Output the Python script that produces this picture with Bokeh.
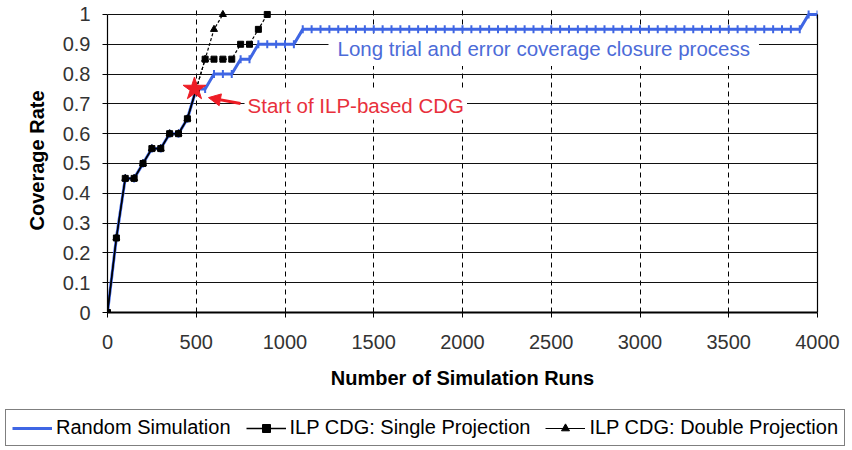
import math
from bokeh.plotting import figure
from bokeh.layouts import column
from bokeh.models import (Range1d, FixedTicker, LinearAxis, Legend, LegendItem,
                          Label, Arrow, NormalHead)
from bokeh.embed import file_html
from bokeh.resources import INLINE

# ---------------- data ----------------
random_runs = [0, 50, 100, 150, 200, 250, 300, 350, 400, 450, 500, 550, 600, 650, 700,
               750, 800, 850, 900, 950, 1000, 1050, 1100, 1150, 1200, 1250, 1300, 1350,
               1400, 1450, 1500, 1550, 1600, 1650, 1700, 1750, 1800, 1850, 1900, 1950,
               2000, 2050, 2100, 2150, 2200, 2250, 2300, 2350, 2400, 2450, 2500, 2550,
               2600, 2650, 2700, 2750, 2800, 2850, 2900, 2950, 3000, 3050, 3100, 3150,
               3200, 3250, 3300, 3350, 3400, 3450, 3500, 3550, 3600, 3650, 3700, 3750,
               3800, 3850, 3900, 3950, 4000]
random_cov = [0, 0.25, 0.45, 0.45, 0.5, 0.55, 0.55, 0.6, 0.6, 0.65, 0.75, 0.75, 0.8, 0.8,
              0.8, 0.85, 0.85, 0.9, 0.9, 0.9, 0.9, 0.9, 0.95, 0.95, 0.95, 0.95, 0.95, 0.95,
              0.95, 0.95, 0.95, 0.95, 0.95, 0.95, 0.95, 0.95, 0.95, 0.95, 0.95, 0.95,
              0.95, 0.95, 0.95, 0.95, 0.95, 0.95, 0.95, 0.95, 0.95, 0.95, 0.95, 0.95,
              0.95, 0.95, 0.95, 0.95, 0.95, 0.95, 0.95, 0.95, 0.95, 0.95, 0.95, 0.95,
              0.95, 0.95, 0.95, 0.95, 0.95, 0.95, 0.95, 0.95, 0.95, 0.95, 0.95, 0.95,
              0.95, 0.95, 0.95, 1.0, 1.0]

single_runs = [0, 50, 100, 150, 200, 250, 300, 350, 400, 450, 500, 550, 600, 650, 700,
               750, 800, 850, 900]
single_cov = [0, 0.25, 0.45, 0.45, 0.5, 0.55, 0.55, 0.6, 0.6, 0.65, 0.75, 0.85, 0.85,
              0.85, 0.85, 0.9, 0.9, 0.95, 1.0]

double_runs = [0, 50, 100, 150, 200, 250, 300, 350, 400, 450, 500, 550, 600, 650]
double_cov = [0, 0.25, 0.45, 0.45, 0.5, 0.55, 0.55, 0.6, 0.6, 0.65, 0.75, 0.85, 0.95, 1.0]

ilp_switch_run = 500          # ILP-based CDG takes over here
ilp_star_run = 490
ilp_star_cov = 0.75

series_names = ["Random Simulation", "ILP CDG: Single Projection", "ILP CDG: Double Projection"]

x_ticks = [0, 500, 1000, 1500, 2000, 2500, 3000, 3500, 4000]
x_tick_labels = ["0", "500", "1000", "1500", "2000", "2500", "3000", "3500", "4000"]
y_ticks = [0, 0.1, 0.2, 0.3, 0.4, 0.5, 0.6, 0.7, 0.8, 0.9, 1.0]
y_tick_labels = ["0", "0.1", "0.2", "0.3", "0.4", "0.5", "0.6", "0.7", "0.8", "0.9", "1"]

x_title = "Number of Simulation Runs"
y_title = "Coverage Rate"
note_long = "Long trial and error coverage closure process"
note_start = "Start of ILP-based CDG"

# ---------------- styling ----------------
FONT = "Liberation Sans"
BLUE = "#3f66e4"
BLUE_TEXT = "#4c6bd8"
RED = "#ee1c25"
RED_TEXT = "#e8303c"

p = figure(width=852, height=400,
           x_range=Range1d(0, 4000), y_range=Range1d(0, 1.02),
           output_backend="svg", toolbar_location=None,
           min_border_left=107, min_border_right=35,
           min_border_top=8, min_border_bottom=88)
p.frame_align = False
p.outline_line_color = None
p.background_fill_color = "white"
p.border_fill_color = "white"

# axes
xa = p.xaxis[0]
xa.ticker = FixedTicker(ticks=x_ticks)
xa.major_label_overrides = dict(zip(x_ticks, x_tick_labels))
ya = p.yaxis[0]
ya.ticker = FixedTicker(ticks=y_ticks)
ya.major_label_overrides = dict(zip(y_ticks, y_tick_labels))
ya.bounds = (0, 1)
for ax in (xa, ya):
    ax.major_label_text_font = FONT
    ax.major_label_text_font_size = "20px"
    ax.major_label_text_color = "#333333"
    ax.axis_label_text_font = FONT
    ax.axis_label_text_font_size = "20px"
    ax.axis_label_text_font_style = "bold"
    ax.axis_label_text_color = "black"
    ax.axis_line_color = "black"
    ax.major_tick_line_color = "black"
    ax.major_tick_out = 5
    ax.major_tick_in = 0
    ax.minor_tick_out = 0
    ax.minor_tick_in = 0
xa.axis_line_width = 1.8
ya.axis_line_width = 1.2
xa.axis_label = x_title
ya.axis_label = y_title
xa.major_label_standoff = 17
ya.major_label_standoff = 12
xa.axis_label_standoff = 15
ya.axis_label_standoff = 12

right_ax = LinearAxis(ticker=FixedTicker(ticks=[]), bounds=(0, 1),
                      axis_line_color="black", axis_line_width=1.2,
                      major_tick_out=0, minor_tick_out=0)
p.add_layout(right_ax, "right")

# grids
p.xgrid.ticker = FixedTicker(ticks=x_ticks)
p.xgrid.grid_line_color = "black"
p.xgrid.grid_line_dash = "5 4"
p.xgrid.grid_line_width = 1
p.ygrid.ticker = FixedTicker(ticks=y_ticks)
p.ygrid.grid_line_color = "#111111"
p.ygrid.grid_line_width = 1

# series styles
blue_line_kw = dict(line_color=BLUE, line_width=3)
blue_mark_kw = dict(marker="dash", size=8, angle=math.pi / 2, line_color=BLUE, line_width=2)
sgl_line_kw = dict(line_color="black", line_width=1.5)
sgl_mark_kw = dict(marker="square", size=6, fill_color="black", line_color="black")
dbl_line_kw = dict(line_color="black", line_width=1.2)
dbl_mark_kw = dict(marker="triangle", size=7, fill_color="black", line_color="black")

p.line(random_runs, random_cov, **blue_line_kw)
p.scatter(random_runs, random_cov, **blue_mark_kw)

k = double_runs.index(ilp_switch_run)
p.line(double_runs[:k + 1], double_cov[:k + 1], **dbl_line_kw)
p.line(double_runs[k:], double_cov[k:], line_color="black", line_width=1.2, line_dash="3 2")
p.scatter(double_runs, double_cov, **dbl_mark_kw)

j = single_runs.index(ilp_switch_run)
p.line(single_runs[:j + 1], single_cov[:j + 1], **sgl_line_kw)
p.line(single_runs[j:], single_cov[j:], line_color="black", line_width=1.2, line_dash="3 2")
p.scatter(single_runs, single_cov, **sgl_mark_kw)

p.scatter([ilp_star_run], [ilp_star_cov], marker="star", size=24,
          fill_color=RED, line_color=RED)

# annotations
p.add_layout(Label(x=1245, y=0.879, text=note_long, text_font=FONT,
                   text_font_size="20.5px", text_color=BLUE_TEXT,
                   text_align="left", text_baseline="middle",
                   background_fill_color="white",
                   padding=dict(left=9, right=9, top=2, bottom=6)))
p.add_layout(Label(x=772, y=0.695, text=note_start, text_font=FONT,
                   text_font_size="20.5px", text_color=RED_TEXT,
                   text_align="left", text_baseline="middle",
                   background_fill_color="white", padding=3))
p.add_layout(Arrow(end=NormalHead(size=12, fill_color=RED, line_color=RED),
                   x_start=749, y_start=0.701, x_end=569, y_end=0.721,
                   line_color=RED, line_width=3))

# ---------------- legend strip ----------------
# same series drawn into a strip whose y-range lies above the data, so only the
# legend entries are visible
lg = figure(width=852, height=50, x_range=Range1d(0, 4000), y_range=Range1d(2, 3),
            output_backend="svg", toolbar_location=None,
            x_axis_type=None, y_axis_type=None, min_border=0)
lg.frame_align = False
lg.outline_line_color = None
lg.grid.visible = False
lb1 = lg.line(random_runs, random_cov, **blue_line_kw)
lb2 = lg.scatter(random_runs, random_cov, **blue_mark_kw)
ls1 = lg.line(single_runs, single_cov, **sgl_line_kw)
ls2 = lg.scatter(single_runs, single_cov, **sgl_mark_kw)
ld1 = lg.line(double_runs, double_cov, **dbl_line_kw)
ld2 = lg.scatter(double_runs, double_cov, **dbl_mark_kw)
legend = Legend(items=[LegendItem(label=series_names[0], renderers=[lb1, lb2]),
                       LegendItem(label=series_names[1], renderers=[ls1, ls2]),
                       LegendItem(label=series_names[2], renderers=[ld1, ld2])],
                orientation="horizontal", location=(5, 4),
                label_text_font=FONT, label_text_font_size="20px", label_text_color="black",
                glyph_width=40, glyph_height=20, label_standoff=4, spacing=15,
                padding=6, margin=0, border_line_color="black", border_line_width=1.5,
                background_fill_color="white", background_fill_alpha=1.0)
lg.add_layout(legend)

layout = column(p, lg, spacing=0)
open("out.html", "w").write(file_html(layout, INLINE))
